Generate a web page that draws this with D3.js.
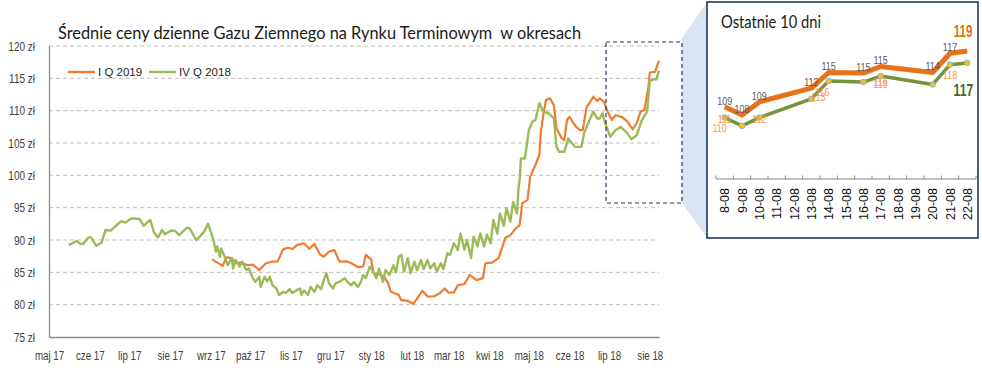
<!DOCTYPE html>
<html><head><meta charset="utf-8">
<script src="https://cdn.jsdelivr.net/npm/d3@7"></script>
<style>
body{margin:0;background:#fff}
svg{display:block}
</style>
</head><body>
<svg id="chart" width="982" height="382"></svg>
<script>
// ---------------- DATA ----------------
const chartTitle = "Średnie ceny dzienne Gazu Ziemnego na Rynku Terminowym  w okresach";
const seriesNames = ["I Q 2019", "IV Q 2018"];
const baseDate = "2017-05-15";      // first day on the time axis
const endDate = "2018-08-22";       // last day on the time axis
const monthLabels = ["maj 17","cze 17","lip 17","sie 17","wrz 17","paź 17","lis 17","gru 17",
                     "sty 18","lut 18","mar 18","kwi 18","maj 18","cze 18","lip 18","sie 18"];
const yTicks = [75,80,85,90,95,100,105,110,115,120];

// I Q 2019 (orange): day offset from baseDate, price
const iq2019Days = [124,132,135,139,142,146,151,155,160,165,170,174,178,182,185,189,194,198,202,206,
  209,213,217,221,226,230,235,239,241,245,247,250,255,258,260,264,266,268,273,277,280,284,288,293,297,
  301,304,308,311,316,320,325,330,332,337,342,347,351,355,358,360,364,366,370,373,374,376,378,381,384,
  386,390,392,394,396,399,401,404,406,409,411,414,417,419,422,425,428,431,436,440,444,447,450,453,454,
  456,457,461,464];
const iq2019Values = [87.0,86.0,87.3,87.2,86.4,86.5,86.1,86.2,85.35,86.4,86.65,86.7,88.55,88.8,88.6,89.25,
  89.5,88.65,89.4,87.8,87.4,88.2,88.45,86.65,86.7,86.4,85.8,85.9,87.7,87.0,84.85,84.8,84.3,83.3,82.0,81.7,
  81.5,80.7,80.6,80.1,80.95,82.15,81.25,81.3,81.75,82.5,81.85,81.9,83.0,83.2,84.6,83.8,84.1,86.4,86.5,87.2,
  90.3,90.75,91.8,92.3,95.7,96.2,99.8,101.6,103.15,106.5,109.3,111.65,111.9,110.9,107.3,105.7,105.4,108.55,
  109.05,108.05,107.5,107.0,107.0,110.6,111.15,112.15,111.5,111.9,111.4,109.85,108.55,109.3,109.0,108.3,
  107.1,108.05,109.85,110.1,111.4,113.8,115.9,116.0,117.75];

// IV Q 2018 (green): day offset from baseDate, price
const ivq2018Days = [15,21,24,26,30,32,36,40,43,47,50,55,58,63,69,72,77,80,83,86,88,93,96,99,105,107,112,
  115,118,121,125,127,128,130,131,134,136,139,140,142,145,147,150,152,155,157,160,161,164,166,168,170,173,
  175,178,180,183,185,188,191,192,194,197,199,202,204,207,209,211,213,216,218,221,225,227,230,232,235,237,
  239,241,244,246,249,251,254,256,259,262,264,266,268,270,273,275,278,280,283,285,288,290,293,295,298,300,
  303,305,308,311,313,316,318,321,323,326,328,331,333,336,338,341,343,346,348,351,353,356,357,358,359,362,
  365,368,370,373,376,380,384,386,388,392,395,400,405,407,409,414,417,419,421,423,427,431,435,440,443,447,
  451,455,457,460,462,464];
const ivq2018Values = [89.2,89.85,89.4,89.4,90.4,90.4,89.1,89.6,91.55,91.45,92.05,92.9,92.7,93.35,93.25,92.2,
  93.1,91.1,90.4,91.55,90.9,91.45,91.4,90.75,91.9,91.8,90.0,90.6,91.3,92.5,90.1,88.2,89.0,87.4,88.7,87.2,
  86.1,87.2,85.6,86.9,85.9,86.65,85.35,85.6,84.1,83.55,84.3,82.75,84.3,83.6,84.3,83.0,82.5,81.5,82.0,81.8,
  82.4,81.8,82.2,82.5,81.5,82.2,81.5,82.75,82.0,83.0,82.4,83.8,84.85,83.3,82.5,83.3,83.55,84.1,83.5,83.0,
  83.5,82.75,83.4,84.6,84.1,85.9,85.3,84.1,85.6,83.55,85.35,84.6,86.1,85.0,87.4,87.7,85.1,87.2,84.85,86.65,
  85.3,86.9,85.5,86.9,85.6,86.4,85.1,86.4,85.5,87.95,87.7,89.5,88.45,91.0,88.5,90.0,87.2,90.5,89.0,91.0,
  89.0,90.8,89.5,93.1,91.0,94.1,92.2,94.9,92.85,95.9,94.1,97.7,99.3,102.6,102.6,107.0,108.4,108.55,111.15,
  109.85,109.6,108.8,104.4,103.65,103.65,105.7,104.4,104.4,106.5,107.5,109.85,108.8,108.8,109.6,108.05,
  105.95,107.0,107.5,106.5,105.6,106.2,108.55,109.85,114.6,114.85,114.85,116.2];

// Inset: last 10 days
const insetTitle = "Ostatnie 10 dni";
const insetCategories = ["8-08","9-08","10-08","11-08","12-08","13-08","14-08","15-08","16-08","17-08",
                         "18-08","19-08","20-08","21-08","22-08"];
const insetDays = ["8-08","9-08","10-08","13-08","14-08","16-08","17-08","20-08","21-08","22-08"];
const insetIQ2019 = [109.0,107.6,109.8,112.1,114.7,114.6,115.7,114.7,117.9,118.3];
const insetIVQ2018 = [107.2,105.8,107.2,110.3,113.3,113.1,114.1,112.7,116.0,116.3];
const insetIQ2019Labels = ["109","108","109","112","115","115","115","114","117",""];
const insetExtraLabelDays = ["8-08","8-08","10-08","13-08","13-08","17-08","17-08","21-08"];
const insetExtraLabelTexts = ["111","110","112","113","116","113","116","118"];
const insetEndLabels = ["119","117"];

// ---------------- LAYOUT / STYLE ----------------
const FONT = "'Liberation Sans',Arial,sans-serif";
const ORANGE = "#ed7d31", GREEN = "#9bbb59";
const plot = {left: 49, right: 659, top: 46, bottom: 337};
const extraLabelNudge = [[0,2],[-5,11],[0,2],[7,-2],[11,-7],[0,8],[0,6],[0,10]];

// horizontally condense a text selection while keeping its anchor point
function narrow(sel, k) {
  sel.each(function() {
    const t = d3.select(this);
    const x0 = +(t.attr("x") || 0);
    t.attr("x", x0 / k).attr("transform", `scale(${k},1)`);
  });
}

const svg = d3.select("#chart");
const parse = d3.timeParse("%Y-%m-%d");
const t0 = parse(baseDate), t1 = parse(endDate);
const x = d3.scaleTime().domain([t0, t1]).range([plot.left, plot.right]);
const y = d3.scaleLinear().domain([75, 120]).range([plot.bottom, plot.top]);

// title
svg.append("text").attr("x", 58).attr("y", 39)
  .attr("font-family", "Lato, 'Open Sans', sans-serif").attr("font-size", 17)
  .attr("fill", "#1a1a1a").style("white-space", "pre").text(chartTitle)
  .attr("textLength", 523).attr("lengthAdjust", "spacingAndGlyphs");

// gridlines
svg.append("g").selectAll("line").data(yTicks.filter(v => v > 75)).join("line")
  .attr("x1", plot.left).attr("x2", plot.right)
  .attr("y1", d => y(d)).attr("y2", d => y(d))
  .attr("stroke", "#bfbfbf").attr("stroke-width", 1).attr("stroke-dasharray", "4,3");

// y axis
const yAxis = svg.append("g").attr("transform", `translate(${plot.left},0)`)
  .call(d3.axisLeft(y).tickValues(yTicks).tickSize(0).tickPadding(14).tickFormat(d => d + " zł"));
yAxis.select(".domain").attr("stroke", "#8c8c8c").attr("stroke-width", 1.3);
yAxis.selectAll("text").attr("font-family", FONT).attr("font-size", 12.5).attr("fill", "#404040")
  .call(narrow, 0.8);

// x axis
const tickDates = monthLabels.map((l, i) => d3.timeMonth.offset(t0, i));
const xAxis = svg.append("g").attr("transform", `translate(0,${plot.bottom})`)
  .call(d3.axisBottom(x).tickValues(tickDates).tickSize(0).tickPadding(14)
    .tickFormat((d, i) => monthLabels[i]));
xAxis.select(".domain").attr("stroke", "#8c8c8c").attr("stroke-width", 1.3);
xAxis.selectAll("text").attr("font-family", FONT).attr("font-size", 12.5).attr("fill", "#404040")
  .call(narrow, 0.78);

// series
const line = d3.line().x(d => x(d.date)).y(d => y(d.v));
const mk = (days, vals) => days.map((dd, i) => ({date: d3.timeDay.offset(t0, dd), v: vals[i]}));
const sIQ = mk(iq2019Days, iq2019Values);
const sIV = mk(ivq2018Days, ivq2018Values);
svg.append("path").datum(sIQ).attr("d", line).attr("fill", "none")
  .attr("stroke", ORANGE).attr("stroke-width", 2.2).attr("stroke-linejoin", "round");
svg.append("path").datum(sIV).attr("d", line).attr("fill", "none")
  .attr("stroke", GREEN).attr("stroke-width", 2.4).attr("stroke-linejoin", "round");

// legend
const leg = svg.append("g");
[[ORANGE, 68, seriesNames[0]], [GREEN, 149, seriesNames[1]]].forEach(([c, lx, name]) => {
  leg.append("line").attr("x1", lx).attr("x2", lx + 27).attr("y1", 72).attr("y2", 72)
    .attr("stroke", c).attr("stroke-width", 2.4);
  leg.append("text").attr("x", lx + 30).attr("y", 76).attr("font-family", FONT)
    .attr("font-size", 11.5).attr("fill", "#262626").text(name);
});

// callout connector + dashed box
svg.append("polygon").attr("points", "682,38 707,2 707,238 682,203").attr("fill", "#dbe4f1");
svg.append("rect").attr("x", 606).attr("y", 42).attr("width", 76).attr("height", 161)
  .attr("fill", "none").attr("stroke", "#1f3864").attr("stroke-width", 1.2).attr("stroke-dasharray", "4,3");

// inset
const ins = svg.append("g");
ins.append("rect").attr("x", 707).attr("y", 2).attr("width", 271).attr("height", 236)
  .attr("fill", "#fff").attr("stroke", "#1f3864").attr("stroke-width", 1.6);
ins.append("text").attr("x", 721).attr("y", 28).attr("font-family", "Lato, 'Open Sans', sans-serif")
  .attr("font-size", 18).attr("fill", "#1a1a1a").text(insetTitle)
  .attr("textLength", 100).attr("lengthAdjust", "spacingAndGlyphs");

const ix = d3.scaleBand().domain(insetCategories).range([716, 976]);
const ixc = c => ix(c) + ix.bandwidth() / 2;
const iy = d3.scaleLinear().domain([100, 120]).range([160.7, 40.7]);

// inset axis
ins.append("line").attr("x1", 716).attr("x2", 976).attr("y1", 179).attr("y2", 179)
  .attr("stroke", "#868686").attr("stroke-width", 1);
ins.append("g").selectAll("line").data(d3.range(insetCategories.length + 1)).join("line")
  .attr("x1", i => 716 + i * ix.step()).attr("x2", i => 716 + i * ix.step())
  .attr("y1", 175.5).attr("y2", 179).attr("stroke", "#868686");
ins.append("g").selectAll("text").data(insetCategories).join("text")
  .attr("transform", d => `translate(${ixc(d) + 4.5},188) rotate(-90)`)
  .attr("text-anchor", "end").attr("font-family", FONT).attr("font-size", 12.5)
  .attr("fill", "#111").text(d => d);

const iline = d3.line().x(d => ixc(d.c)).y(d => iy(d.v));
const iIQ = insetDays.map((c, i) => ({c, v: insetIQ2019[i]}));
const iIV = insetDays.map((c, i) => ({c, v: insetIVQ2018[i]}));
ins.append("path").datum(iIQ).attr("d", iline).attr("fill", "none")
  .attr("stroke", "#e8711a").attr("stroke-width", 5).attr("stroke-linejoin", "round");
ins.append("path").datum(iIV).attr("d", iline).attr("fill", "none")
  .attr("stroke", "#76923c").attr("stroke-width", 3.5).attr("stroke-linejoin", "round");
ins.append("g").selectAll("rect").data(iIV).join("rect")
  .attr("x", d => ixc(d.c) - 2.5).attr("y", d => iy(d.v) - 2.5).attr("width", 5).attr("height", 5)
  .attr("rx", 1.2).attr("fill", "#ffc000").attr("stroke", "#8db3e2").attr("stroke-width", 1);

// inset data labels
ins.append("g").selectAll("text").data(iIQ).join("text")
  .attr("x", d => ixc(d.c)).attr("y", d => iy(d.v) - 2)
  .attr("text-anchor", "middle").attr("font-family", FONT).attr("font-size", 11.5)
  .attr("fill", "#595959").text((d, i) => insetIQ2019Labels[i])
  .call(narrow, 0.78);
ins.append("g").selectAll("text").data(insetExtraLabelTexts).join("text")
  .attr("x", (d, i) => ixc(insetExtraLabelDays[i]) + extraLabelNudge[i][0])
  .attr("y", (d, i) => iy(insetIVQ2018[insetDays.indexOf(insetExtraLabelDays[i])]) + extraLabelNudge[i][1] + 4)
  .attr("text-anchor", "middle").attr("font-family", FONT).attr("font-size", 11.5)
  .attr("fill", "#f79646").text(d => d)
  .call(narrow, 0.78);

// end labels
const lastC = insetDays[insetDays.length - 1];
ins.append("text").attr("x", ixc(lastC) + 5).attr("y", 37).attr("text-anchor", "end")
  .attr("font-family", FONT).attr("font-weight", "bold").attr("font-size", 16)
  .attr("fill", "#e46c0a").text(insetEndLabels[0]).call(narrow, 0.72);
ins.append("text").attr("x", ixc(lastC) + 6).attr("y", 96).attr("text-anchor", "end")
  .attr("font-family", FONT).attr("font-weight", "bold").attr("font-size", 17)
  .attr("fill", "#4f6228").text(insetEndLabels[1]).call(narrow, 0.72);
</script>
</body></html>
